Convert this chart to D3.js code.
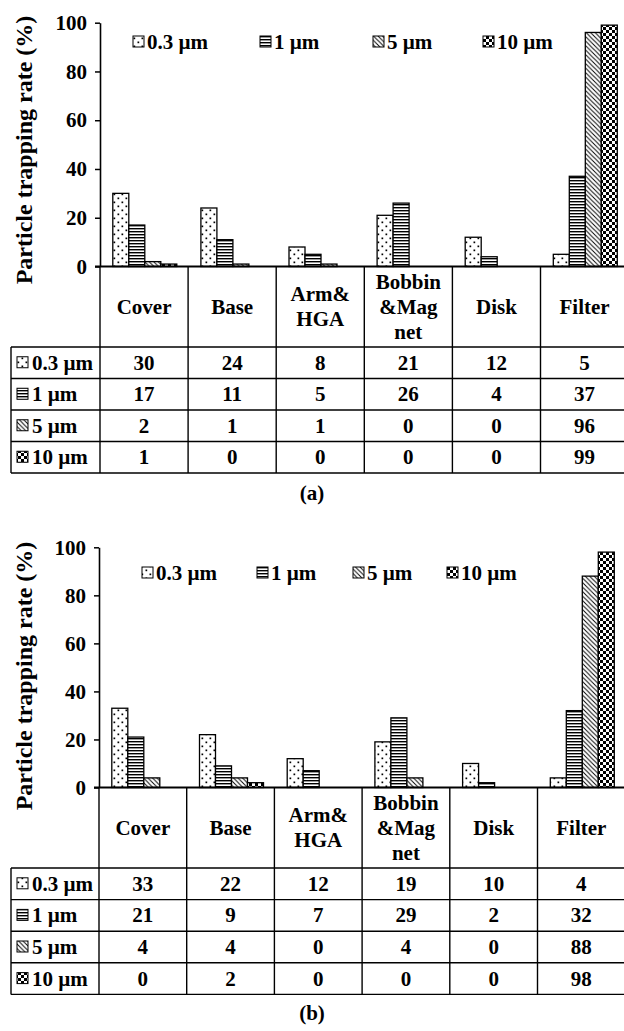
<!DOCTYPE html>
<html>
<head>
<meta charset="utf-8">
<script src="https://cdn.jsdelivr.net/npm/d3@7"></script>
<style>
body {margin:0; background:#fff;}
svg text {font-family:"Liberation Serif","LiberationSerif","Times New Roman",Times,"DejaVu Serif",serif !important; font-weight:bold; fill:#000;}
</style>
</head>
<body>
<div id="chart"></div>
<script>
// data
const categories = ["Cover", "Base", "Arm&\nHGA", "Bobbin\n&Mag\nnet", "Disk", "Filter"]
const sizes = ["0.3 µm", "1 µm", "5 µm", "10 µm"]
const yTicks = [0, 20, 40, 60, 80, 100]

// (a)
const a03 = [30, 24, 8, 21, 12, 5]
const a1 = [17, 11, 5, 26, 4, 37]
const a5 = [2, 1, 1, 0, 0, 96]
const a10 = [1, 0, 0, 0, 0, 99]
// (b)
const b03 = [33, 22, 12, 19, 10, 4]
const b1 = [21, 9, 7, 29, 2, 32]
const b5 = [4, 4, 0, 4, 0, 88]
const b10 = [0, 2, 0, 0, 0, 98]

const width = 624
const height = 1031

const svg = d3.select("div#chart").append("svg").attr("width", width).attr("height", height)

// fill patterns
const defs = svg.append("defs")
function pattern(id, w, h) {
    const p = defs.append("pattern").attr("id", id).attr("patternUnits", "userSpaceOnUse").attr("width", w).attr("height", h)
    p.append("rect").attr("width", w).attr("height", h).attr("fill", "#fff")
    return p
}
const pDots = pattern("pDots", 8, 8)
pDots.append("rect").attr("x", 1.5).attr("y", 1.5).attr("width", 1.7).attr("height", 1.7).attr("fill", "#000")
pDots.append("rect").attr("x", 5.5).attr("y", 5.5).attr("width", 1.7).attr("height", 1.7).attr("fill", "#000")

const pLines = pattern("pLines", 4, 3)
pLines.append("rect").attr("y", 0).attr("width", 4).attr("height", 1.4).attr("fill", "#000")

const pDiag = pattern("pDiag", 4.5, 4.5)
pDiag.append("path").attr("d", "M0,0L4.5,4.5M-1,3.5L1,5.5M3.5,-1L5.5,1").attr("stroke", "#000").attr("stroke-width", 0.95)

const pCheck = pattern("pCheck", 6, 6)
pCheck.append("rect").attr("width", 3).attr("height", 3).attr("fill", "#000")
pCheck.append("rect").attr("x", 3).attr("y", 3).attr("width", 3).attr("height", 3).attr("fill", "#000")

const fills = ["url(#pDots)", "url(#pLines)", "url(#pDiag)", "url(#pCheck)"]

const panels = [
    {values: [a03, a1, a5, a10], caption: "(a)", axisX: 100, colW: 88.1, yTop: 22.7, yZero: 266.5,
     headerBottom: 347, rowH: 31.5, captionY: 500, legendY: 49, legendX: [133, 260, 373, 483], labelY: 150},
    {values: [b03, b1, b5, b10], caption: "(b)", axisX: 99, colW: 87.7, yTop: 547.3, yZero: 787.5,
     headerBottom: 868, rowH: 31.6, captionY: 1020, legendY: 580, legendX: [142, 257, 353, 447], labelY: 676}
]

const tableLeft = 11

function drawPanel(p) {
    const g = svg.append("g")
    const x0 = d3.scaleBand().domain(categories).range([p.axisX, p.axisX + 6 * p.colW])
    const x1 = d3.scaleBand().domain(sizes).range([12.8, 76.8])
    const y = d3.scaleLinear().domain([0, 100]).range([p.yZero, p.yTop])
    const right = x0.range()[1]
    const tableBottom = p.headerBottom + 4 * p.rowH

    //bars
    const bars = []
    categories.forEach((c, i) => sizes.forEach((s, j) => bars.push({cat: c, size: s, j: j, value: p.values[j][i]})))
    g.append("g").selectAll("rect")
        .data(bars.filter(d => d.value > 0))
        .enter().append("rect")
        .attr("x", d => x0(d.cat) + x1(d.size))
        .attr("y", d => y(d.value))
        .attr("width", x1.bandwidth())
        .attr("height", d => y(0) - y(d.value))
        .attr("fill", d => fills[d.j])
        .attr("stroke", "#000")
        .attr("stroke-width", 1.3)

    //y axis
    const yAxis = d3.axisLeft(y).tickValues(yTicks).tickSize(5).tickSizeOuter(0).tickPadding(8)
    const ya = g.append("g").attr("transform", `translate(${p.axisX}, 0)`).call(yAxis)
    ya.attr("font-family", null).attr("font-size", null)
    ya.select(".domain").attr("stroke-width", 1.6)
    ya.selectAll(".tick line").attr("stroke-width", 1.5)
    ya.selectAll(".tick text").style("font-size", "21px")

    g.append("text")
        .text("Particle trapping rate (%)")
        .attr("transform", `translate(32, ${p.labelY}) rotate(-90)`)
        .attr("text-anchor", "middle")
        .style("font-size", "24px")

    //legend
    sizes.forEach((s, j) => {
        g.append("rect").attr("x", p.legendX[j]).attr("y", p.legendY - 13).attr("width", 11).attr("height", 11)
            .attr("fill", fills[j]).attr("stroke", "#000").attr("stroke-width", 1)
        g.append("text").text(s).attr("x", p.legendX[j] + 14).attr("y", p.legendY).style("font-size", "21px")
    })

    //table lines
    const lines = g.append("g").attr("stroke", "#000").attr("stroke-width", 1.4)
    lines.append("line").attr("x1", p.axisX - 5).attr("x2", right).attr("y1", p.yZero).attr("y2", p.yZero).attr("stroke-width", 2)
    categories.concat([null]).forEach(c => {
        const xx = c === null ? right : x0(c)
        lines.append("line").attr("x1", xx).attr("x2", xx).attr("y1", p.yZero).attr("y2", tableBottom)
    })
    lines.append("line").attr("x1", tableLeft).attr("x2", tableLeft).attr("y1", p.headerBottom).attr("y2", tableBottom)
    for (let r = 0; r <= 4; r++) {
        const yy = p.headerBottom + r * p.rowH
        lines.append("line").attr("x1", tableLeft).attr("x2", right).attr("y1", yy).attr("y2", yy)
    }

    //header
    const headerMid = (p.yZero + p.headerBottom) / 2
    categories.forEach(c => {
        const parts = c.split("\n")
        const t = g.append("text").attr("text-anchor", "middle").style("font-size", "21px")
        parts.forEach((s, k) => {
            t.append("tspan").text(s)
                .attr("x", x0(c) + x0.bandwidth() / 2)
                .attr("y", headerMid + 7 + (k - (parts.length - 1) / 2) * 25)
        })
    })

    //rows
    sizes.forEach((s, j) => {
        const cy = p.headerBottom + (j + 0.5) * p.rowH
        g.append("rect").attr("x", 17).attr("y", cy - 6).attr("width", 11).attr("height", 11)
            .attr("fill", fills[j]).attr("stroke", "#000").attr("stroke-width", 1)
        g.append("text").text(s).attr("x", 32).attr("y", cy + 7).style("font-size", "21px")
        categories.forEach((c, i) => {
            g.append("text").text(p.values[j][i])
                .attr("x", x0(c) + x0.bandwidth() / 2)
                .attr("y", cy + 7)
                .attr("text-anchor", "middle")
                .style("font-size", "21px")
        })
    })

    g.append("text").text(p.caption).attr("x", 312).attr("y", p.captionY).attr("text-anchor", "middle").style("font-size", "21px")
}

panels.forEach(drawPanel)
</script>
</body>
</html>
